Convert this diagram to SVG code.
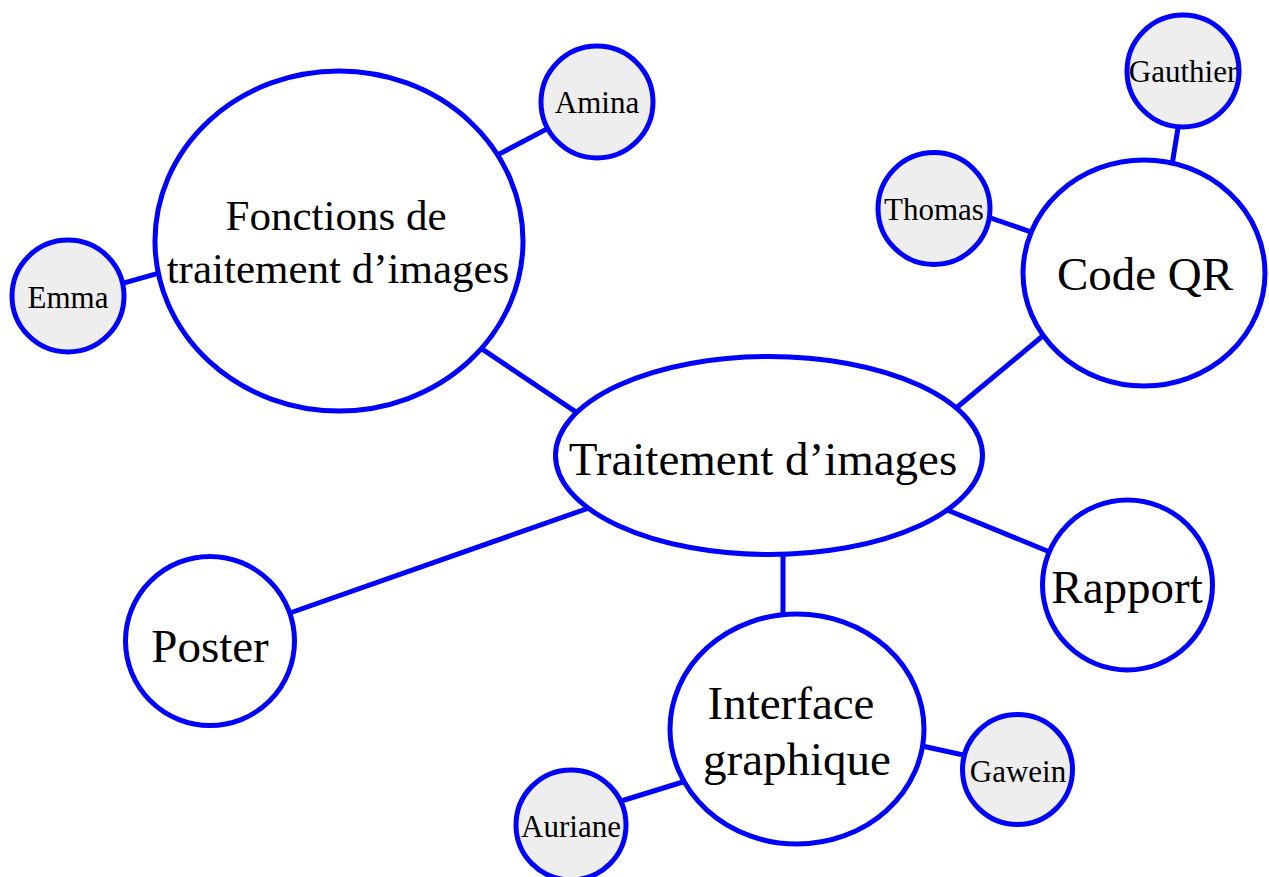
<svg xmlns="http://www.w3.org/2000/svg" width="1269" height="877" viewBox="0 0 1269 877">
<style>
.edge{stroke:#0000ff;stroke-width:5;fill:none}
.big{fill:#ffffff;stroke:#0000ff;stroke-width:5}
.small{fill:#eeeeee;stroke:#0000ff;stroke-width:5}
text{font-family:"Liberation Serif","Times New Roman",serif;fill:#000000;text-anchor:middle}
.lg{font-size:47px}
.md{font-size:43px}
.sm{font-size:31px}
</style>
<rect width="1269" height="877" fill="#ffffff"/>
<g id="connectors">
<line class="edge" x1="480" y1="347.6" x2="578" y2="413.4"/>
<line class="edge" x1="498" y1="154.6" x2="548" y2="128.4"/>
<line class="edge" x1="118" y1="284.7" x2="158" y2="273.3"/>
<line class="edge" x1="955" y1="409" x2="1045" y2="334"/>
<line class="edge" x1="1172" y1="165" x2="1179" y2="122"/>
<line class="edge" x1="985" y1="216" x2="1034" y2="233"/>
<line class="edge" x1="589" y1="508" x2="287" y2="614"/>
<line class="edge" x1="946" y1="509.5" x2="1051" y2="552.5"/>
<line class="edge" x1="783" y1="550" x2="783" y2="618"/>
<line class="edge" x1="921" y1="745.7" x2="969" y2="756.3"/>
<line class="edge" x1="686" y1="781" x2="618" y2="802"/>
</g>
<g id="traitement">
<ellipse class="big" cx="769" cy="455.5" rx="213.5" ry="99"/>
<text class="lg" x="763" y="475">Traitement d’images</text>
</g>
<g id="fonctions">
<ellipse class="big" cx="339" cy="241" rx="184" ry="170"/>
<text class="md" x="336" y="230">Fonctions de</text>
<text class="md" x="338" y="283">traitement d’images</text>
</g>
<g id="amina">
<circle class="small" cx="597" cy="102" r="56"/>
<text class="sm" x="597" y="113">Amina</text>
</g>
<g id="emma">
<circle class="small" cx="68" cy="296" r="56"/>
<text class="sm" x="68" y="308">Emma</text>
</g>
<g id="codeqr">
<ellipse class="big" cx="1144" cy="273" rx="121" ry="113"/>
<text class="lg" x="1145" y="290">Code QR</text>
</g>
<g id="gauthier">
<circle class="small" cx="1183" cy="71" r="56"/>
<text class="sm" x="1183" y="82">Gauthier</text>
</g>
<g id="thomas">
<circle class="small" cx="934" cy="208.5" r="56"/>
<text class="sm" x="934" y="220">Thomas</text>
</g>
<g id="poster">
<circle class="big" cx="210" cy="641" r="84.5"/>
<text class="lg" x="210" y="662">Poster</text>
</g>
<g id="rapport">
<circle class="big" cx="1127.5" cy="585" r="85"/>
<text class="lg" x="1127" y="603">Rapport</text>
</g>
<g id="interface">
<ellipse class="big" cx="797" cy="729" rx="127" ry="115"/>
<text class="lg" x="791" y="719">Interface</text>
<text class="lg" x="797" y="775">graphique</text>
</g>
<g id="gawein">
<circle class="small" cx="1017.5" cy="769.5" r="55"/>
<text class="sm" x="1018" y="782">Gawein</text>
</g>
<g id="auriane">
<circle class="small" cx="571" cy="825" r="55"/>
<text class="sm" x="571" y="837">Auriane</text>
</g>
</svg>
